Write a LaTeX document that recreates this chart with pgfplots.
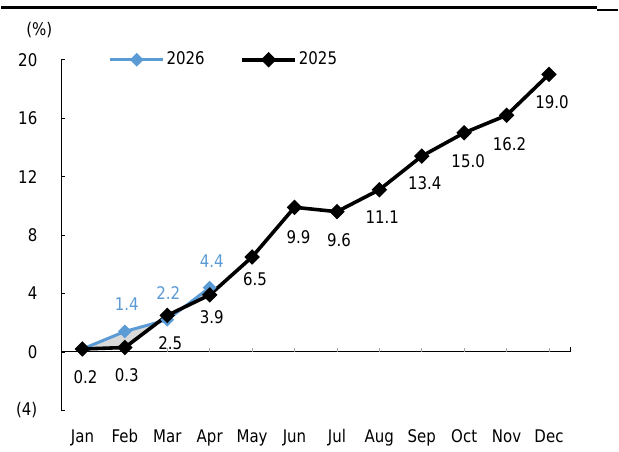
\documentclass[border=0pt]{standalone}
\usepackage{fontspec}
\setmainfont{DejaVu Sans}[FakeStretch=0.86]
\usepackage{pgfplots}
\usepackage{pgfplotstable}
\pgfplotsset{compat=1.18}
\usepgfplotslibrary{fillbetween}

\definecolor{blue26}{RGB}{91,155,213}
\definecolor{gapfill}{RGB}{217,217,217}
\newcommand\fs{\fontsize{17.5}{20}\selectfont}

% 2025 (black), label offsets in pt
\pgfplotstableread{
x y dx dy lab
0 0.2 3 -28 0.2
1 0.3 2 -28 0.3
2 2.5 3 -28 2.5
3 3.9 2 -22 3.9
4 6.5 3 -22 6.5
5 9.9 4 -30 9.9
6 9.6 2 -29 9.6
7 11.1 3 -27 11.1
8 13.4 3 -27 13.4
9 15.0 4 -28 15.0
10 16.2 3 -29 16.2
11 19.0 3 -28 19.0
}\tblA

% 2026 (blue)
\pgfplotstableread{
x y dx dy lab
0 0.2 0 0 {}
1 1.4 2 27 1.4
2 2.2 1 27 2.2
3 4.4 2 27 4.4
}\tblB

\begin{document}
\fs
\begin{tikzpicture}
\path (0pt,0pt) rectangle (619pt,447pt);
\draw[line width=3pt] (0pt,439pt) -- (598pt,439pt);
\draw[line width=2pt] (598pt,436.5pt) -- (619pt,436.5pt);
\node[font=\fs] at (38pt,417pt) {(\%)};
\begin{axis}[
    at={(60pt,35pt)}, anchor=south west,
    scale only axis, width=511pt, height=352pt,
    xmin=-0.5, xmax=11.5, ymin=-4, ymax=20,
    axis lines=left,
    axis line style={-, line width=0.8pt},
    x axis line style={draw=none},
    xtick={0,...,11},
    xticklabels={Jan,Feb,Mar,Apr,May,Jun,Jul,Aug,Sep,Oct,Nov,Dec},
    x tick style={draw=none},
    ytick={-4,0,4,8,12,16,20},
    yticklabels={(4)\hspace{-5pt},0,4,8,12,16,20},
    tick align=inside, major tick length=4pt,
    y tick style={line width=0.8pt, black},
    tick label style={font=\fs},
    xticklabel style={yshift=-13pt},
    yticklabel style={xshift=-18pt},
    clip=false,
    legend style={at={(rel axis cs:0.093,1)}, anchor=west, draw=none, fill=none,
        inner sep=0pt, font=\fs, legend columns=2,
        /tikz/every even column/.append style={column sep=34pt}},
    legend image code/.code={\draw[mark repeat=2, mark phase=2, #1]
        plot coordinates {(0pt,0pt) (26.5pt,0pt) (53pt,0pt)};},
]
\draw[line width=1pt] (axis cs:-0.5,0) -- (axis cs:11.5,0);
\pgfplotsinvokeforeach{0,...,11}{\draw[gray!70, line width=0.8pt] (axis cs:#1,0) -- ++(0pt,3.5pt);}
\draw[line width=1pt] (axis cs:11.5,0) -- ++(0pt,4.5pt);

\addplot[name path=b, blue26, line width=3pt, mark=square*, mark size=3.4pt,
    mark options={rotate=45},
    point meta=explicit symbolic,
    visualization depends on={\thisrow{dx}\as\dx},
    visualization depends on={\thisrow{dy}\as\dy},
    nodes near coords,
    every node near coord/.append style={anchor=center, xshift=\dx pt, yshift=\dy pt,
        font=\fs, text=blue26}]
    table[x=x, y=y, meta=lab] {\tblB};
\addlegendentry{2026}
\addplot[name path=a, black, line width=3.6pt, mark=square*, mark size=3.7pt,
    mark options={rotate=45},
    point meta=explicit symbolic,
    visualization depends on={\thisrow{dx}\as\dx},
    visualization depends on={\thisrow{dy}\as\dy},
    nodes near coords,
    every node near coord/.append style={anchor=center, xshift=\dx pt, yshift=\dy pt,
        font=\fs, text=black}]
    table[x=x, y=y, meta=lab] {\tblA};
\addlegendentry{2025}
\addplot[fill=gapfill, draw=none, forget plot] fill between[of=a and b, soft clip={domain=0:3}];
\end{axis}
\end{tikzpicture}
\end{document}
